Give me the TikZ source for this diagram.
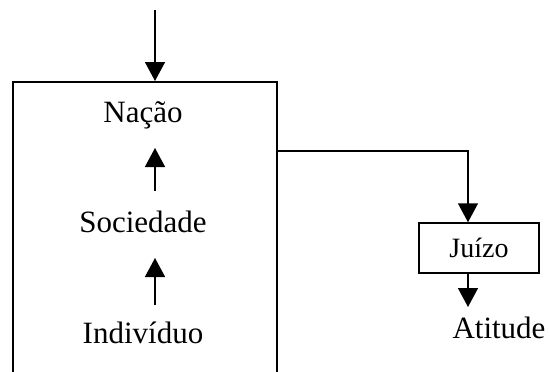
\documentclass[tikz,border=0pt]{standalone}
\usepackage{fontspec}
\setmainfont{Liberation Serif}
\usetikzlibrary{arrows.meta}
\begin{document}
\begin{tikzpicture}[x=1pt,y=-1pt,
  line width=1.5pt,
  arr/.style={-{Triangle[width=20pt,length=19pt]}},
  lbl/.style={font=\fontsize{31}{37}\selectfont, inner sep=0pt, anchor=base},
  jbox/.style={draw, font=\fontsize{28}{34}\selectfont, minimum width=120pt, minimum height=50pt, inner sep=0pt},
  frm/.style={draw, minimum width=264pt, minimum height=320pt, anchor=north west, inner sep=0pt}]
\useasboundingbox (0,0) rectangle (550,372);
\clip (0,0) rectangle (550,372);
\node[frm] (frame) at (12,81) {};
\node[lbl] (nac) at (143,122) {Nação};
\node[lbl] (soc) at (143,232) {Sociedade};
\node[lbl] (ind) at (143,343) {Indivíduo};
\node[jbox] (jui) at (479,248) {Juízo};
\node[lbl] (att) at (499,338) {Atitude};
\coordinate (top) at (155,10);
\draw[arr] (top) -- (top |- frame.north);
\draw[arr] ([xshift=12pt,yshift=41pt]soc.base) -- ([xshift=12pt,yshift=-26pt]nac.base);
\draw[arr] ([xshift=12pt,yshift=38pt]ind.base) -- ([xshift=12pt,yshift=-26pt]soc.base);
\draw[arr] (frame.east |- 0,151) -| ([xshift=-11pt]jui.north);
\draw[arr] ([xshift=-11pt]jui.south) -- ([xshift=-31pt,yshift=31pt]att.base);
\end{tikzpicture}
\end{document}
